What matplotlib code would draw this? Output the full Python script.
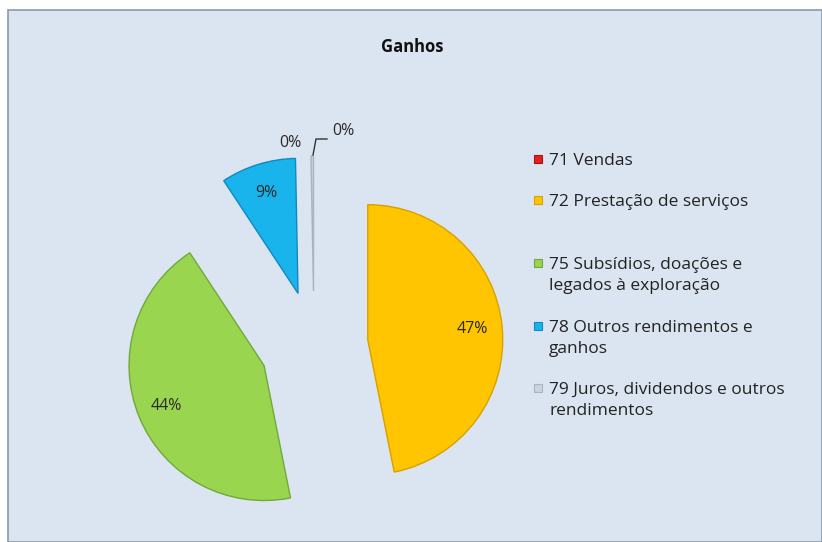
import matplotlib
matplotlib.use("Agg")
import matplotlib.pyplot as plt
from matplotlib.patches import Rectangle
import numpy as np

categories = ["71 Vendas", "72 Prestação de serviços", "75 Subsídios, doações e\nlegados à exploração",
              "78 Outros rendimentos e\nganhos", "79 Juros, dividendos e outros\nrendimentos"]
values = [0.0, 47.0, 44.0, 9.0, 0.3]
pct_labels = ["0%", "47%", "44%", "9%", "0%"]
title = "Ganhos"

colors = ["#e3201c", "#fec500", "#9ad550", "#19b4ec", "#c9d3de"]
edges = ["#a51612", "#d9a000", "#72a83a", "#0e8ac0", "#a9b4c0"]

W, H = 822, 542
fig = plt.figure(figsize=(W / 100, H / 100), dpi=100)
fig.patch.set_facecolor("white")
bg = Rectangle((8 / W, 0), 1 - 8 / W, (H - 10) / H, transform=fig.transFigure,
               facecolor="#dbe5f1", edgecolor="#8a99ab", linewidth=1.2, zorder=-10)
fig.patches.append(bg)

plt.rcParams['font.family'] = ['Open Sans', 'DejaVu Sans']

ax = fig.add_axes([0, 0, 1, 1])
ax.set_facecolor("none")
ax.set_zorder(5)
R = 135.0
cx, cy = 314.0, 345.0
wedges, _ = ax.pie(values, startangle=90, counterclock=False, radius=1,
                   explode=[0.4] * len(values), colors=colors,
                   wedgeprops=dict(linewidth=1.0))
for w, e, v in zip(wedges, edges, values):
    w.set_edgecolor(e)
    if v == 0:
        w.set_linewidth(0)
ax.set_xlim(-cx / R, (W - cx) / R)
ax.set_ylim(-(H - cy) / R, cy / R)
ax.set_aspect("equal")
ax.axis("off")

# percentage labels for the large slices
for i, w in enumerate(wedges):
    if values[i] < 1:
        continue
    ang = np.deg2rad((w.theta1 + w.theta2) / 2)
    c = w.center
    x = c[0] + 0.78 * np.cos(ang)
    y = c[1] + 0.78 * np.sin(ang)
    ax.text(x, y, pct_labels[i], ha="center", va="center", fontsize=11.5, color="#2a2a2a")

# the two near-zero labels
def px(xp, yp):
    return ((xp - cx) / R, (cy - yp) / R)

ax.text(*px(290, 143), pct_labels[4], ha="center", va="center", fontsize=11.5, color="#2a2a2a")
ax.text(*px(343, 131), pct_labels[0], ha="center", va="center", fontsize=11.5, color="#2a2a2a")
lx = [px(313, 155), px(316, 139), px(327, 139)]
ax.plot([p[0] for p in lx], [p[1] for p in lx], color="#333333", lw=1.0)

fig.text(412 / W, 1 - 47 / H, title, ha="center", va="center", fontsize=12, fontweight="bold",
         color="#111111")

# legend (Excel-style layout: first-line centres in pixels from the top)
leg_y = [159, 200, 263, 326, 388]
for lab, col, edge, yy in zip(categories, colors, edges, leg_y):
    fig.patches.append(Rectangle((534 / W, 1 - (yy + 4) / H), 8 / W, 8 / H, transform=fig.transFigure,
                                 facecolor=col, edgecolor=edge, linewidth=0.8, zorder=6))
    fig.text(549 / W, 1 - (yy - 6) / H, lab, ha="left", va="top", fontsize=12.5,
             linespacing=1.42, color="#222222")

fig.savefig("out.png", dpi=100)
